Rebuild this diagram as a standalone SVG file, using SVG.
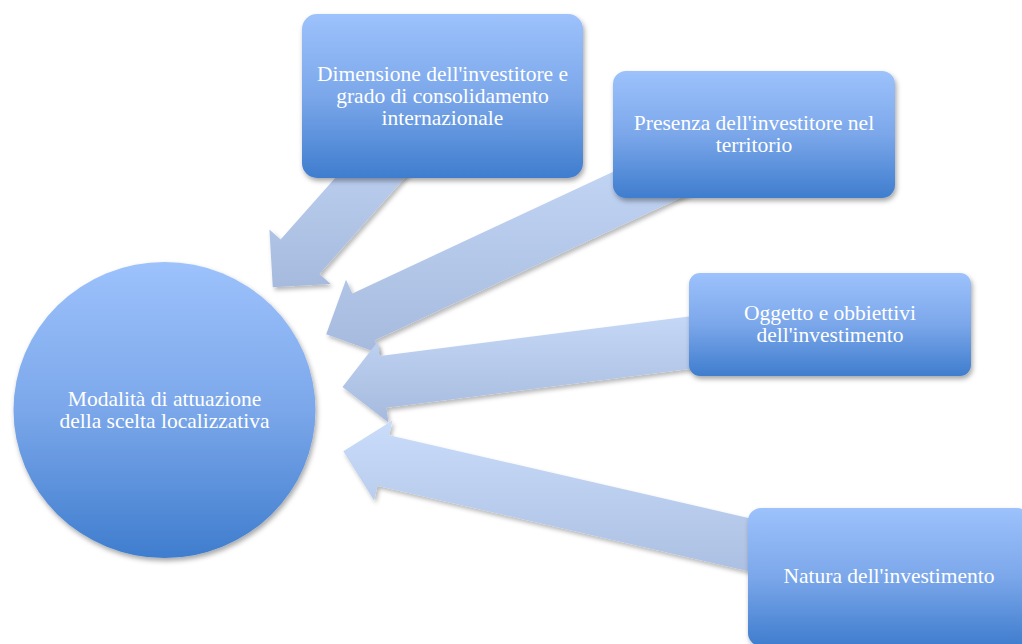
<svg xmlns="http://www.w3.org/2000/svg" width="1022" height="644" viewBox="0 0 1022 644">
  <defs>
    <linearGradient id="nodeFill" x1="0" y1="0" x2="0" y2="1">
      <stop offset="0" stop-color="#9dc2fc"/>
      <stop offset="0.5" stop-color="#7ba7ea"/>
      <stop offset="1" stop-color="#3f7dce"/>
    </linearGradient>
    <linearGradient id="arrowFill" x1="0" y1="0" x2="0" y2="1">
      <stop offset="0" stop-color="#c9dcfa"/>
      <stop offset="1" stop-color="#a6bade"/>
    </linearGradient>
    <filter id="shadow" x="-20%" y="-20%" width="140%" height="140%">
      <feDropShadow dx="1.5" dy="3" stdDeviation="2.5" flood-color="#000000" flood-opacity="0.35"/>
    </filter>
    <filter id="arrowShadow" x="-20%" y="-20%" width="140%" height="140%">
      <feDropShadow dx="2" dy="3" stdDeviation="2" flood-color="#000000" flood-opacity="0.28"/>
    </filter>
  </defs>
  <style>
    .node { fill: url(#nodeFill); filter: url(#shadow); }
    .arrow { fill: url(#arrowFill); filter: url(#arrowShadow); }
    .label { font-family: "Liberation Serif", "Times New Roman", serif; font-size: 21.5px; fill: #ffffff; text-anchor: middle; }
  </style>
  <rect width="1022" height="644" fill="#ffffff"/>

  <!-- block arrows pointing from each factor toward the central circle -->
  <g id="connectors">
    <polygon class="arrow" points="272.8,287.3 269.4,229.4 280.6,239.4 423.3,78.6 462.2,113.1 319.5,273.9 330.7,283.9"/>
    <polygon class="arrow" points="326.2,334.3 346.0,279.8 352.4,293.4 743.0,111.3 765.0,158.4 374.4,340.5 380.7,354.1"/>
    <polygon class="arrow" points="342.5,387.1 377.95,341.2 379.9,356.1 826.7,298.8 833.3,350.4 386.5,407.7 388.4,422.6"/>
    <polygon class="arrow" points="343.3,451.3 392.5,420.6 389.1,435.2 894.9,551.7 883.2,602.4 377.4,485.8 374.1,500.5"/>
  </g>

  <g id="center">
    <ellipse class="node" cx="164.5" cy="410" rx="151" ry="148"/>
    <text class="label" x="164.5" y="406">Modalità di attuazione</text>
    <text class="label" x="164.5" y="428">della scelta localizzativa</text>
  </g>

  <g id="dimensione">
    <rect class="node" x="302" y="14" width="281" height="164" rx="15"/>
    <text class="label" x="442.5" y="81">Dimensione dell'investitore e</text>
    <text class="label" x="442.5" y="103">grado di consolidamento</text>
    <text class="label" x="442.5" y="125">internazionale</text>
  </g>

  <g id="presenza">
    <rect class="node" x="613" y="71" width="282" height="127" rx="13"/>
    <text class="label" x="754" y="130">Presenza dell'investitore nel</text>
    <text class="label" x="754" y="152">territorio</text>
  </g>

  <g id="oggetto">
    <rect class="node" x="689" y="273" width="282" height="103" rx="11"/>
    <text class="label" x="830" y="320">Oggetto e obbiettivi</text>
    <text class="label" x="830" y="342">dell'investimento</text>
  </g>

  <g id="natura">
    <rect class="node" x="748" y="508" width="282" height="138" rx="13"/>
    <text class="label" x="889" y="583">Natura dell'investimento</text>
  </g>
</svg>
